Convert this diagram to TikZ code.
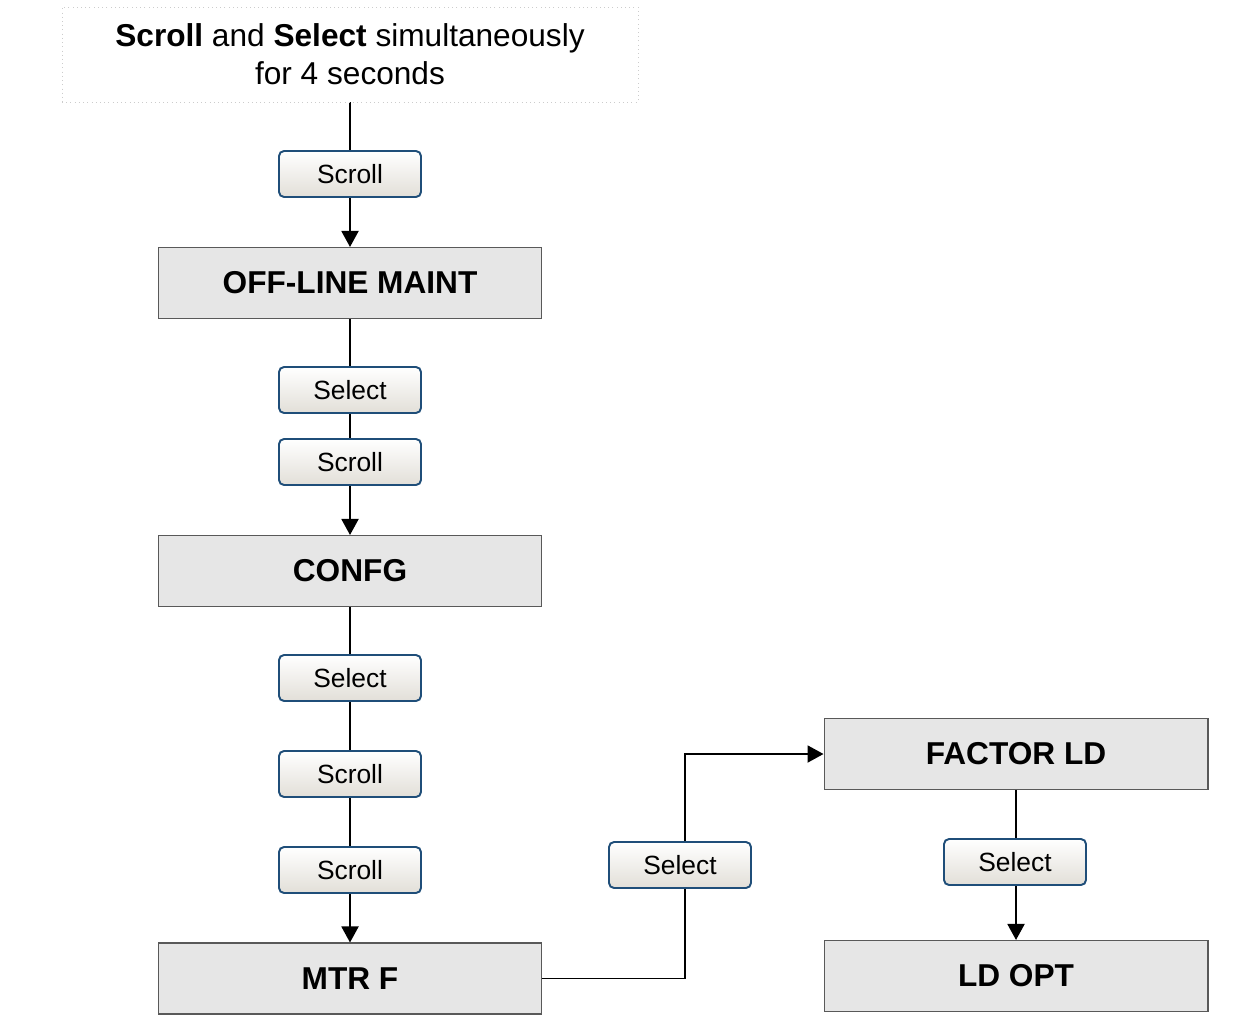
\documentclass[tikz,border=0pt]{standalone}
\usepackage{fontspec}
\setmainfont{Liberation Sans}
\usetikzlibrary{arrows.meta,backgrounds}

\definecolor{boxfill}{HTML}{E6E6E6}
\definecolor{boxline}{HTML}{595959}
\definecolor{btnline}{HTML}{1F4E79}
\definecolor{btnbot}{HTML}{E2DFD8}

\tikzset{
    menu/.style={draw=boxline, line width=0.6pt, fill=boxfill, minimum width=7.68cm, minimum height=1.42cm, font=\fontsize{18}{21.5}\selectfont\bfseries},
    key/.style={draw=btnline, line width=1.1pt, rounded corners=0.1cm, top color=white, bottom color=btnbot, minimum width=2.84cm, minimum height=0.92cm, font=\fontsize{15}{18}\selectfont},
    flow/.style={line width=1.1pt, -{Triangle[length=0.32cm,width=0.34cm]}},
}

\begin{document}
\begin{tikzpicture}[x=0.02cm, y=-0.02cm]
            \useasboundingbox (0,0) rectangle (1256,1017);
            \node[draw=gray!40, dotted, fill=white, minimum width=11.52cm, minimum height=1.9cm, align=center, font=\fontsize{18}{21.5}\selectfont] (start) at (350,54.5) {\textbf{Scroll} and \textbf{Select} simultaneously\\for 4 seconds};
            \node[key] (scrollA) at (350,174) {Scroll};
            \node[menu] (offline) at (350,283) {OFF-LINE MAINT};
            \node[key] (selectA) at (350,390) {Select};
            \node[key] (scrollB) at (350,462) {Scroll};
            \node[menu] (confg) at (350,571) {CONFG};
            \node[key] (selectB) at (350,678) {Select};
            \node[key] (scrollC) at (350,774) {Scroll};
            \node[key] (scrollD) at (350,870) {Scroll};
            \node[menu] (mtrf) at (350,978.5) {MTR F};
            \node[key] (selectC) at (680,865) {Select};
            \node[menu] (factor) at (1016,754) {FACTOR LD};
            \node[key] (selectD) at (1015,862) {Select};
            \node[menu] (ldopt) at (1016,976) {LD OPT};
            \begin{scope}[on background layer]
                \draw[flow] (start) -- (offline);
                \draw[flow] (offline) -- (confg);
                \draw[flow] (confg) -- (mtrf);
                \draw[flow] (factor) -- (ldopt);
                \draw[flow] (mtrf.east) -| ([xshift=0.1cm]selectC.center) |- (factor.west);
            \end{scope}
        \end{tikzpicture}
\end{document}
